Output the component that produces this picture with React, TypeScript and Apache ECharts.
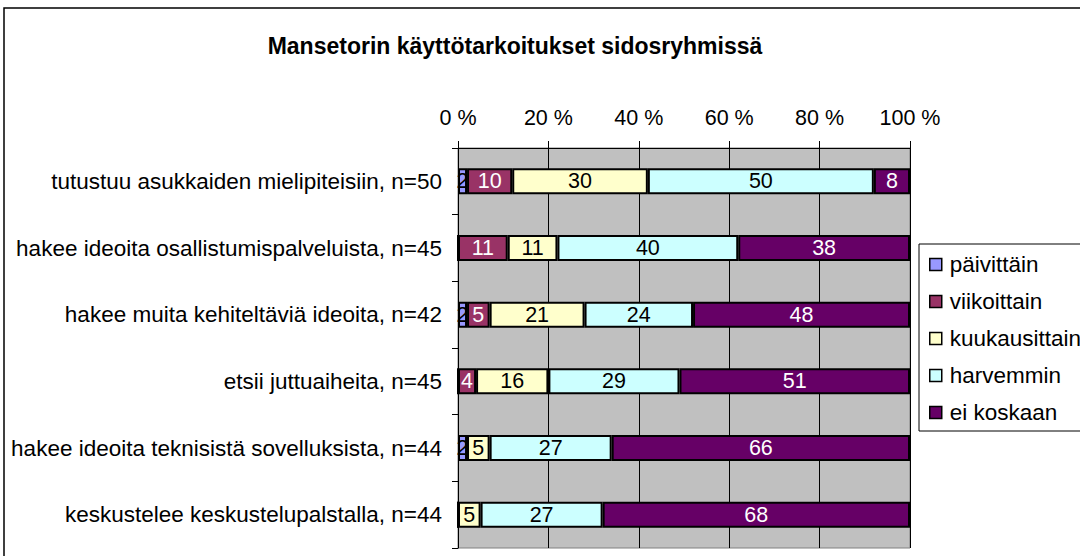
import React, { useEffect, useRef } from "react";
import * as echarts from "echarts";

const categories = [
  "tutustuu asukkaiden mielipiteisiin, n=50",
  "hakee ideoita osallistumispalveluista, n=45",
  "hakee muita kehiteltäviä ideoita, n=42",
  "etsii juttuaiheita, n=45",
  "hakee ideoita teknisistä sovelluksista, n=44",
  "keskustelee keskustelupalstalla, n=44",
];
const seriesNames = ["päivittäin", "viikoittain", "kuukausittain", "harvemmin", "ei koskaan"];
const paivittain = [2, 0, 2, 0, 2, 0];
const viikoittain = [10, 11, 5, 4, 0, 0];
const kuukausittain = [30, 11, 21, 16, 5, 5];
const harvemmin = [50, 40, 24, 29, 27, 27];
const eiKoskaan = [8, 38, 48, 51, 66, 68];
const xTicks = [0, 20, 40, 60, 80, 100];

const colors = ["#9999FF", "#993366", "#FFFFCC", "#CCFFFF", "#660066"];
const labelColors = ["#000", "#fff", "#000", "#000", "#fff"];
const FONT = 'Arial, "Liberation Sans", sans-serif';
const FS = 21.5;

export default function App() {
  const ref = useRef<HTMLDivElement>(null);
  useEffect(() => {
    if (!ref.current) return;
    const chart = echarts.init(ref.current, undefined, { renderer: "svg" });
    const values = [paivittain, viikoittain, kuukausittain, harvemmin, eiKoskaan];
    chart.setOption({
      animation: false,
      textStyle: { fontFamily: FONT },
      title: {
        text: "Mansetorin käyttötarkoitukset sidosryhmissä",
        left: 510,
        textAlign: "center",
        top: 29,
        textStyle: { fontFamily: FONT, fontSize: 23, fontWeight: "bold", color: "#000" },
      },
      graphic: [
        {
          type: "rect",
          shape: { x: 4, y: 8, width: 1200, height: 700 },
          style: { fill: "none", stroke: "#000", lineWidth: 1.5 },
          silent: true,
          z: -10,
        },
      ],
      legend: {
        orient: "vertical",
        left: 919,
        top: 244,
        width: 200,
        padding: [9, 60, 7, 10],
        itemGap: 14,
        itemWidth: 12,
        itemHeight: 12,
        borderColor: "#000",
        borderWidth: 1,
        backgroundColor: "#fff",
        icon: "rect",
        itemStyle: { borderColor: "#000", borderWidth: 1.5 },
        textStyle: { fontFamily: FONT, fontSize: 22.5, color: "#000", padding: [0, 0, 0, 3] },
        data: seriesNames,
      },
      grid: {
        left: 458,
        right: 170,
        top: 148,
        bottom: 8,
        show: true,
        backgroundColor: "#C0C0C0",
        borderColor: "#808080",
        borderWidth: 1,
      },
      xAxis: {
        type: "value",
        position: "top",
        min: xTicks[0],
        max: xTicks[xTicks.length - 1],
        interval: 20,
        axisLine: { show: true, lineStyle: { color: "#000", width: 1 } },
        axisTick: { show: true, length: 7, lineStyle: { color: "#000" } },
        axisLabel: { formatter: "{value} %", fontSize: FS, color: "#000", margin: 19, fontFamily: FONT },
        splitLine: { show: true, lineStyle: { color: "#000", width: 1 } },
      },
      yAxis: {
        type: "category",
        inverse: true,
        data: categories,
        axisLine: { show: true, lineStyle: { color: "#000", width: 1 } },
        axisTick: { show: true, length: 6, lineStyle: { color: "#000" } },
        axisLabel: { fontSize: 22.5, color: "#000", margin: 16, fontFamily: FONT },
      },
      series: seriesNames.map((name, i) => ({
        name,
        type: "bar",
        stack: "total",
        barWidth: "39%",
        data: values[i],
        itemStyle: { color: colors[i], borderColor: "#000", borderWidth: 2 },
        label: {
          show: true,
          position: "inside",
          fontSize: FS,
          fontFamily: FONT,
          color: labelColors[i],
          formatter: (p: any) => (p.value ? String(p.value) : ""),
        },
      })),
    });
    return () => chart.dispose();
  }, []);
  return (
    <div
      ref={ref}
      style={{ position: "absolute", left: 0, top: 0, width: 1080, height: 556 }}
    />
  );
}
